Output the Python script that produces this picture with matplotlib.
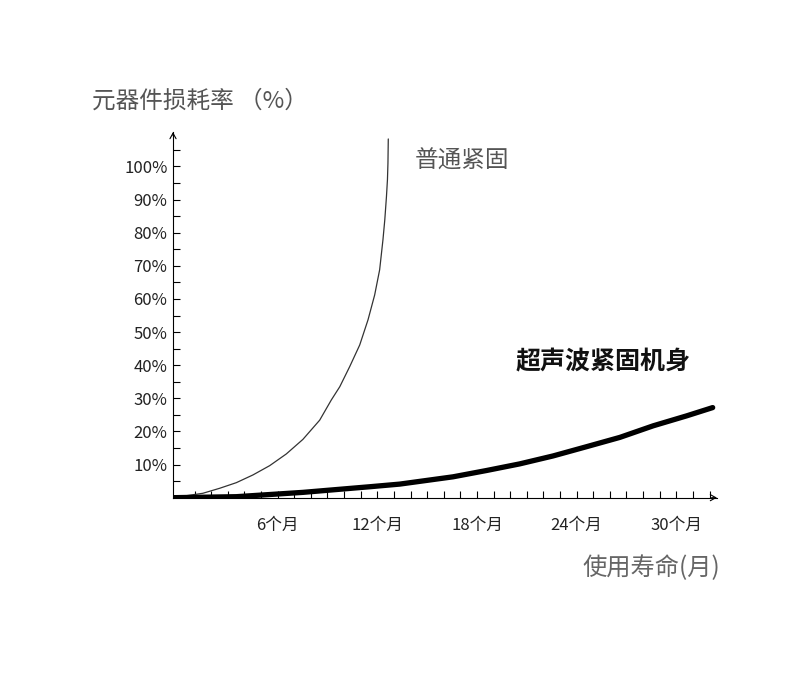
import matplotlib.pyplot as plt

plt.rcParams['font.family'] = ['Noto Sans CJK SC', 'DejaVu Sans']

# 使用寿命 (月) / 损耗率 (%)
normal_months = [-0.3, 1.5, 2.51, 3.51, 4.51, 5.52, 6.52, 7.52, 8.53, 9.23,
                 9.74, 10.34, 10.94, 11.44, 11.84, 12.14, 12.34, 12.45,
                 12.55, 12.61, 12.64, 12.66]
normal_loss = [0.0, 1.33, 2.84, 4.53, 6.86, 9.67, 13.2, 17.6, 23.4, 29.5,
               33.5, 39.6, 46.1, 53.7, 61.2, 68.8, 77.9, 83.9,
               90.9, 96.0, 101.0, 108.3]

ultra_months = [-0.3, 3.51, 7.51, 11.54, 13.35, 16.56, 18.57, 20.57, 22.58,
                24.6, 26.6, 28.61, 30.62, 32.19]
ultra_loss = [0.0, 0.3, 1.6, 3.3, 4.1, 6.3, 8.2, 10.2, 12.6,
              15.4, 18.2, 21.7, 24.7, 27.2]

x_ticks = list(range(1, 33))
x_labels = ['%d个月' % m if m % 6 == 0 else '' for m in x_ticks]
y_ticks = list(range(5, 110, 5))
y_labels = ['%d%%' % v if v % 10 == 0 and v <= 100 else '' for v in y_ticks]

fig = plt.figure(figsize=(7.9, 6.84), dpi=100)
ax = fig.add_axes([0.219, 0.2724, 0.6886, 0.5346])

ax.plot(normal_months, normal_loss, color='#333333', lw=0.9,
        solid_capstyle='round', solid_joinstyle='round')
ax.plot(ultra_months, ultra_loss, color='black', lw=3.8,
        solid_capstyle='round', solid_joinstyle='round')

ax.set_xlim(-0.3, 32.45)
ax.set_ylim(0, 110.4)

ax.spines['top'].set_visible(False)
ax.spines['right'].set_visible(False)
for s in ['left', 'bottom']:
    ax.spines[s].set_linewidth(0.8)

ax.set_xticks(x_ticks)
ax.set_xticklabels(x_labels)
ax.set_yticks(y_ticks)
ax.set_yticklabels(y_labels)
ax.tick_params(axis='both', direction='in', length=5, width=0.8,
               labelsize=12, labelcolor='#222222')
ax.tick_params(axis='x', pad=14)
ax.tick_params(axis='y', pad=4)

# arrow heads on the axes
arrow = dict(arrowstyle='->,head_length=0.4,head_width=0.22', lw=0.8,
             color='black', shrinkA=0, shrinkB=0)
ax.annotate('', xy=(1, 0), xytext=(0.99, 0), xycoords='axes fraction',
            arrowprops=arrow, annotation_clip=False)
ax.annotate('', xy=(0, 1), xytext=(0, 0.99), xycoords='axes fraction',
            arrowprops=arrow, annotation_clip=False)

ax.text(14.25, 101.7, '普通紧固', fontsize=17, color='#555555', va='center')
ax.text(20.3, 41.0, '超声波紧固机身', fontsize=18, color='#111111',
        fontweight='bold', va='center')

fig.text(92 / 790, 1 - 101 / 684, '元器件损耗率 （%）', fontsize=17,
         color='#555555', va='center')
fig.text(720 / 790, 1 - 568 / 684, '使用寿命(月)', fontsize=17.5,
         color='#666666', va='center', ha='right')

fig.savefig('out.png', dpi=100)
